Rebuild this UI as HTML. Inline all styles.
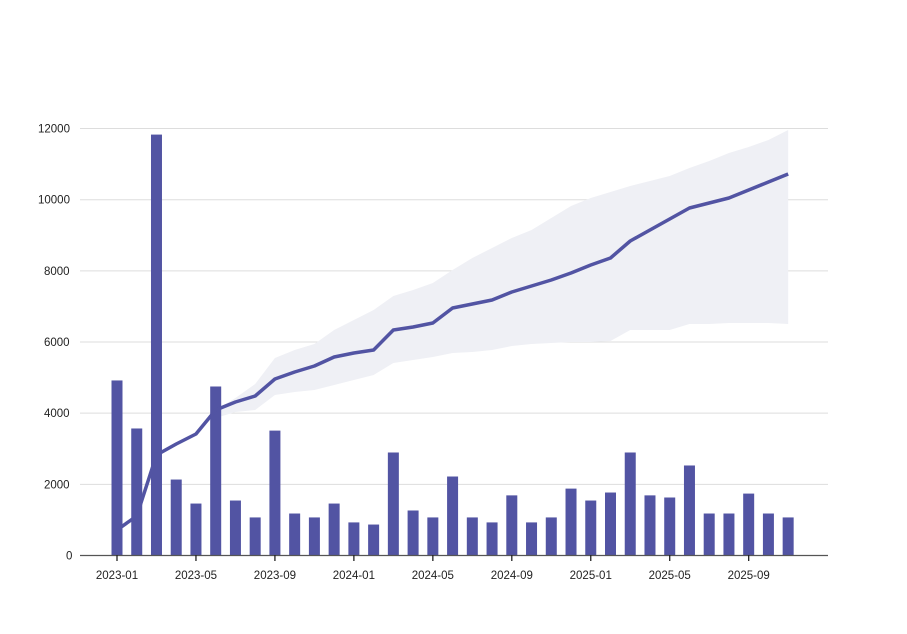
<!DOCTYPE html>
<html><head><meta charset="utf-8"><style>
body{margin:0;background:#fff}
svg text{font-family:"Liberation Sans",sans-serif;font-size:11.5px;fill:#222}
</style></head><body>
<svg id="s" width="907" height="629" xmlns="http://www.w3.org/2000/svg"></svg>
<script>
const s=document.getElementById('s');let h='';
const Y=v=>555.5-v*0.03558;
[2000,4000,6000,8000,10000,12000].forEach(v=>{h+=`<line x1="80" x2="828" y1="${Y(v)}" y2="${Y(v)}" stroke="#ddd" stroke-width="1"/>`});
[0,2000,4000,6000,8000,10000,12000].forEach(v=>{h+=`<text x="${v==0?66:(v>=10000?38:44)}" y="${Y(v)+4}">${v}</text>`});
const up=[410,398,384,358,350,344,330,320,310,296,290,283,270,258,248,238,230,218,206,198,192,186,181,176,168,161,153,147,140,130];
const lo=[418,412,410,395,392,390,385,380,375,363,360,357,353,352,350,346,344,343,342,342,341,330,330,330,324,324,323,323,323,324];
const X=i=>117+i*19.74;
let p='';up.forEach((y,i)=>p+=`${X(i+5)},${y} `);for(let i=lo.length-1;i>=0;i--)p+=`${X(i+5)},${lo[i]} `;
h+=`<polygon points="${p}" fill="#eff0f5"/>`;
const bars=[4920,3570,11830,2135,1460,4750,1545,1070,3510,1180,1070,1460,930,870,2895,1265,1070,2220,1070,930,1690,930,1070,1880,1545,1770,2895,1690,1630,2530,1180,1180,1740,1180,1070];
bars.forEach((v,i)=>{h+=`<rect x="${X(i)-5.5}" y="${Y(v)}" width="11" height="${555.5-Y(v)}" fill="#5254a3"/>`});
const ln=[530,516,455,444,434,410,402,396,379,372,366,357,353,350,330,327,323,308,304,300,292,286,280,273,265,258,241,230,219,208,203,198,190,182,174];
h+=`<polyline points="${ln.map((y,i)=>X(i)+','+y).join(' ')}" fill="none" stroke="#5254a3" stroke-width="3.5" stroke-linejoin="round"/>`;
h+=`<line x1="80" x2="828" y1="555.5" y2="555.5" stroke="#555" stroke-width="1.3"/>`;
const labs=['2023-01','2023-05','2023-09','2024-01','2024-05','2024-09','2025-01','2025-05','2025-09'];
labs.forEach((l,k)=>{const x=X(k*4);h+=`<line x1="${x}" x2="${x}" y1="555" y2="561" stroke="#222" stroke-width="1.3"/><text x="${x}" y="579" text-anchor="middle">${l}</text>`});
s.innerHTML=h;
</script>
</body></html>
